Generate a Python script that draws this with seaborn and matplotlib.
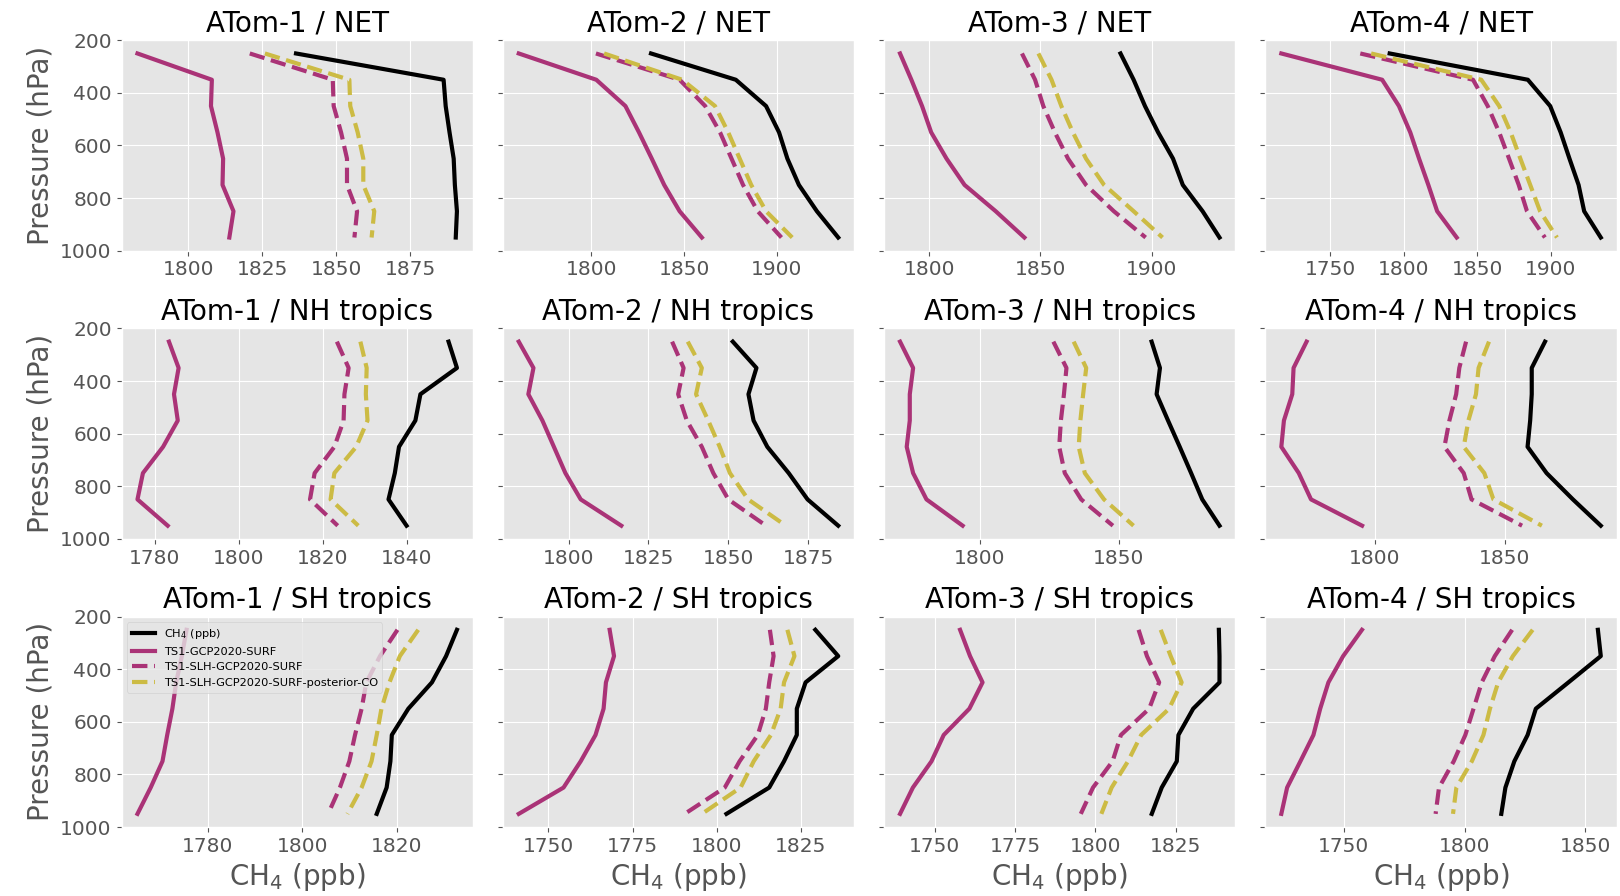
import numpy as np
import pandas as pd
import seaborn as sns
import matplotlib.pyplot as plt

# vertical levels (hPa) and panel layout
pressure = [250, 350, 450, 550, 650, 750, 850, 950]
campaigns = ['ATom-1', 'ATom-2', 'ATom-3', 'ATom-4']
regions = ['NET', 'NH tropics', 'SH tropics']
series_names = ['CH$_4$ (ppb)', 'TS1-GCP2020-SURF', 'TS1-SLH-GCP2020-SURF',
                'TS1-SLH-GCP2020-SURF-posterior-CO']

# one row per campaign (ATom-1..4), values at the pressure levels above
obs_net = [[1836.4, 1886.2, 1886.9, 1888.2, 1889.6, 1890.0, 1890.7, 1890.3],
           [1832.2, 1877.9, 1894.2, 1901.2, 1905.7, 1911.9, 1921.6, 1933.1],
           [1886.0, 1891.9, 1897.0, 1902.9, 1909.6, 1914.0, 1922.9, 1930.5],
           [1790.4, 1884.4, 1899.6, 1906.7, 1912.7, 1918.9, 1922.7, 1934.0]]
gcp_net = [[1782.9, 1808.0, 1807.7, 1809.9, 1811.8, 1811.6, 1815.3, 1813.9],
           [1760.9, 1802.7, 1818.4, 1825.7, 1832.6, 1839.3, 1847.6, 1859.6],
           [1786.9, 1792.0, 1796.8, 1800.9, 1807.8, 1815.9, 1829.9, 1842.8],
           [1716.7, 1785.3, 1796.7, 1804.4, 1810.4, 1816.7, 1822.7, 1836.0]]
slh_net = [[1820.8, 1848.8, 1849.1, 1851.6, 1853.6, 1853.6, 1857.0, 1856.1],
           [1802.5, 1847.6, 1861.4, 1869.4, 1875.6, 1881.8, 1889.7, 1902.5],
           [1841.7, 1847.6, 1851.3, 1856.5, 1862.4, 1870.5, 1883.0, 1897.3],
           [1770.4, 1847.1, 1857.1, 1864.9, 1871.6, 1878.2, 1883.8, 1896.0]]
co_net = [[1825.9, 1854.4, 1854.7, 1857.2, 1859.1, 1859.1, 1862.8, 1861.9],
          [1806.9, 1849.0, 1866.7, 1873.8, 1880.0, 1886.2, 1894.2, 1908.3],
          [1849.1, 1855.0, 1859.4, 1864.6, 1870.5, 1878.6, 1891.9, 1904.9],
          [1777.8, 1852.7, 1864.9, 1872.7, 1879.3, 1886.0, 1892.7, 1904.2]]

obs_nh = [[1850.0, 1852.0, 1843.3, 1842.1, 1838.2, 1837.2, 1835.7, 1840.0],
          [1851.4, 1858.8, 1856.3, 1857.9, 1862.2, 1868.9, 1874.8, 1884.4],
          [1861.8, 1864.8, 1863.6, 1867.7, 1871.9, 1876.0, 1880.0, 1886.2],
          [1865.4, 1860.3, 1860.3, 1859.7, 1858.7, 1866.0, 1876.1, 1886.8]]
gcp_nh = [[1783.4, 1785.7, 1784.6, 1785.5, 1782.0, 1777.2, 1775.9, 1783.1],
          [1784.4, 1789.0, 1787.4, 1791.8, 1795.4, 1799.0, 1803.8, 1816.5],
          [1771.4, 1776.1, 1774.9, 1774.9, 1773.8, 1776.1, 1780.9, 1793.9],
          [1773.9, 1768.9, 1768.4, 1765.2, 1764.2, 1770.9, 1775.6, 1795.2]]
slh_nh = [[1823.4, 1826.2, 1825.2, 1825.0, 1822.8, 1818.1, 1817.0, 1823.6],
          [1832.4, 1836.0, 1834.3, 1837.0, 1841.7, 1845.3, 1850.0, 1861.8],
          [1826.5, 1831.2, 1830.3, 1829.2, 1828.6, 1830.6, 1836.5, 1847.9],
          [1835.1, 1832.5, 1831.3, 1828.7, 1826.8, 1834.2, 1837.2, 1856.6]]
co_nh = [[1829.0, 1830.5, 1830.3, 1830.7, 1828.0, 1822.8, 1821.9, 1828.5],
         [1837.3, 1841.7, 1839.9, 1843.7, 1847.3, 1850.5, 1856.2, 1868.0],
         [1833.8, 1838.3, 1837.2, 1836.2, 1835.6, 1837.8, 1844.7, 1855.3],
         [1843.9, 1839.9, 1838.9, 1836.0, 1834.2, 1842.1, 1845.6, 1864.2]]

obs_sh = [[1832.8, 1830.5, 1827.5, 1822.5, 1819.0, 1818.7, 1817.9, 1815.8],
          [1829.3, 1836.1, 1826.4, 1823.8, 1823.8, 1820.0, 1815.6, 1802.9],
          [1838.5, 1838.7, 1838.7, 1830.5, 1825.9, 1825.4, 1820.7, 1817.6],
          [1855.2, 1856.4, 1843.0, 1829.5, 1826.1, 1820.6, 1816.9, 1815.2]]
gcp_sh = [[1775.5, 1774.5, 1773.3, 1772.5, 1771.4, 1770.4, 1767.9, 1765.1],
          [1768.2, 1769.5, 1767.1, 1766.4, 1764.0, 1759.6, 1754.5, 1741.2],
          [1757.9, 1761.0, 1764.9, 1760.8, 1752.8, 1749.0, 1743.2, 1739.2],
          [1757.5, 1749.7, 1743.6, 1740.2, 1737.4, 1732.0, 1726.5, 1724.1]]
slh_sh = [[1820.2, 1816.5, 1813.6, 1812.6, 1811.2, 1810.0, 1808.0, 1805.5],
          [1815.8, 1816.9, 1815.6, 1814.6, 1812.2, 1806.8, 1802.4, 1790.5],
          [1813.5, 1816.1, 1819.9, 1816.8, 1808.0, 1805.4, 1799.3, 1795.5],
          [1819.7, 1812.5, 1807.1, 1803.7, 1800.3, 1795.5, 1789.4, 1788.0]]
co_sh = [[1824.6, 1820.7, 1818.5, 1816.8, 1815.8, 1814.7, 1812.6, 1809.6],
         [1821.0, 1823.1, 1820.0, 1819.0, 1816.1, 1811.0, 1807.1, 1795.6],
         [1820.4, 1823.5, 1826.9, 1823.0, 1814.3, 1810.2, 1805.1, 1801.9],
         [1828.2, 1820.0, 1813.9, 1810.5, 1807.8, 1803.0, 1796.6, 1795.2]]

# long table: region, campaign, series, pressure, ch4
region_data = {
    'NET': [obs_net, gcp_net, slh_net, co_net],
    'NH tropics': [obs_nh, gcp_nh, slh_nh, co_nh],
    'SH tropics': [obs_sh, gcp_sh, slh_sh, co_sh],
}
rows = []
for region, arrays in region_data.items():
    for name, arr in zip(series_names, arrays):
        for c, campaign in enumerate(campaigns):
            for p, v in zip(pressure, arr[c]):
                rows.append((region, campaign, name, p, v))
df = pd.DataFrame(rows, columns=['region', 'campaign', 'series', 'pressure', 'ch4'])

colors = ['black', '#AA3377', '#AA3377', '#CCBB44']
styles = ['-', '-', '--', '--']

plt.style.use('ggplot')
plt.rcParams['xtick.labelsize'] = 14.5
plt.rcParams['ytick.labelsize'] = 14.5

fig, axes = plt.subplots(3, 4, figsize=(16.2, 8.96), dpi=100, sharey=True)
fig.subplots_adjust(left=0.075, right=0.998, top=0.955, bottom=0.077,
                    wspace=0.085, hspace=0.37)

for i, region in enumerate(regions):
    for j, campaign in enumerate(campaigns):
        ax = axes[i, j]
        sub = df[(df['region'] == region) & (df['campaign'] == campaign)]
        for name, color, ls in zip(series_names, colors, styles):
            s = sub[sub['series'] == name]
            sns.lineplot(x=s['ch4'].values, y=s['pressure'].values, ax=ax,
                         orient='y', estimator=None, color=color,
                         linestyle=ls, linewidth=3, label=name)
        ax.set_ylim(1000, 200)
        ax.set_yticks([200, 400, 600, 800, 1000])
        ax.set_title(f'{campaign} / {region}', fontsize=20)
        ax.set_xlabel('CH$_4$ (ppb)' if i == 2 else '', fontsize=20)
        ax.set_ylabel('Pressure (hPa)' if j == 0 else '', fontsize=20)
        if i == 2 and j == 0:
            ax.legend(loc='upper left', fontsize=8.2)
        else:
            ax.get_legend().remove()

fig.savefig('out.png', dpi=100)
